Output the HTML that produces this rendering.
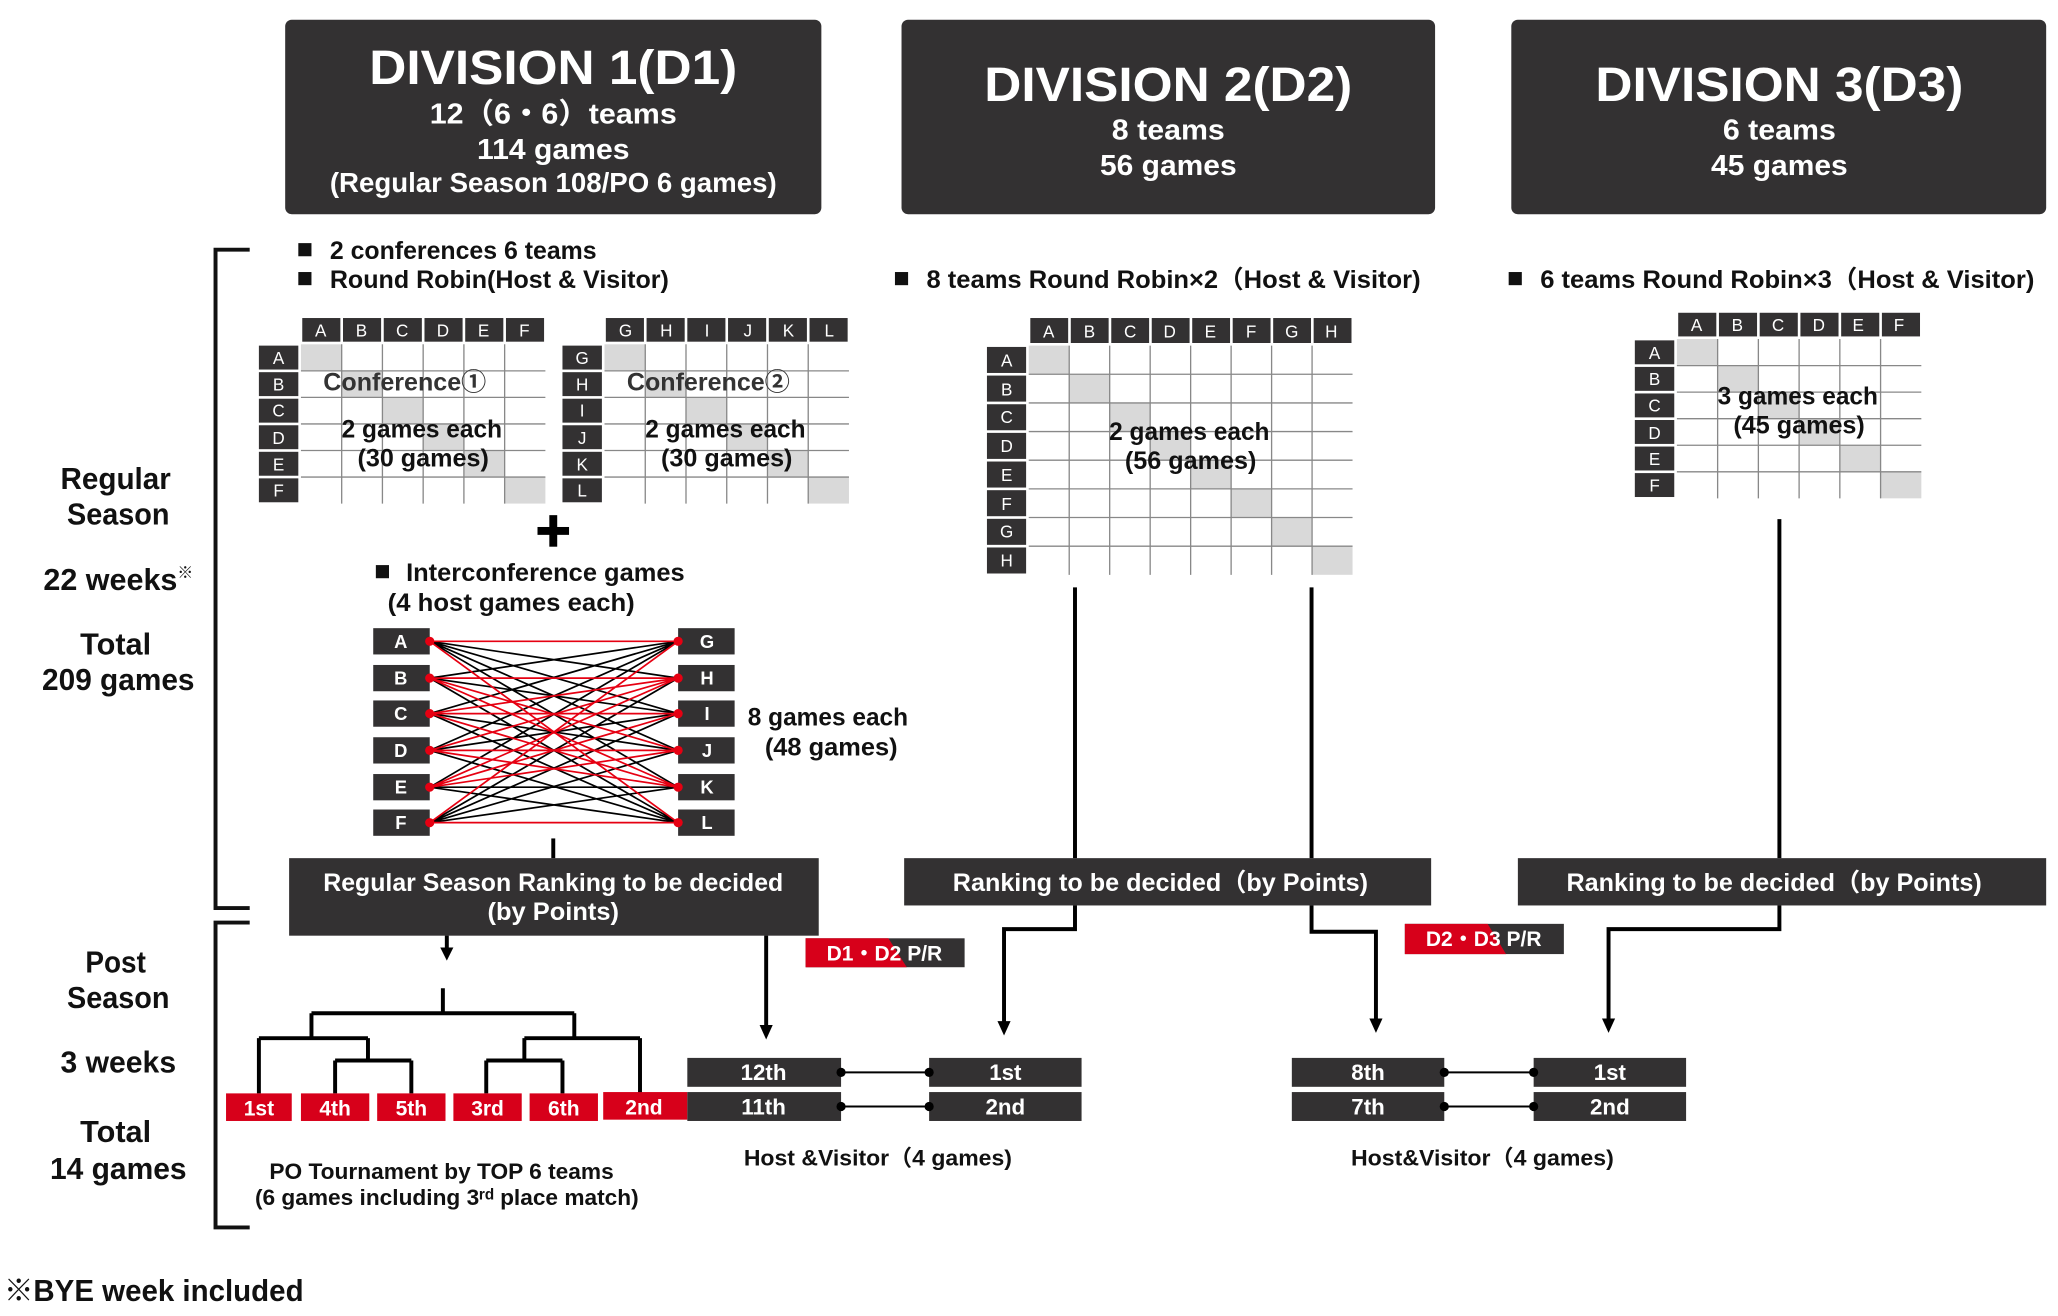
<!DOCTYPE html>
<html><head><meta charset="utf-8"><style>
html,body{margin:0;padding:0;background:#fff;}
svg{display:block;}
text{font-family:"Liberation Sans","Noto Sans CJK JP",sans-serif;font-weight:bold;}
.gl text{font-weight:normal;}
</style></head><body>
<svg width="2058" height="1316" viewBox="0 0 1566 1001.4" preserveAspectRatio="none" xmlns="http://www.w3.org/2000/svg">
<defs>
<g id="g6">
<g fill="#333132">
<rect x="230" y="242" width="29" height="18"/><rect x="261" y="242" width="29" height="18"/><rect x="292" y="242" width="29" height="18"/><rect x="323" y="242" width="29" height="18"/><rect x="354" y="242" width="29" height="18"/><rect x="385" y="242" width="29" height="18"/>
<rect x="197" y="263" width="30" height="18.2"/><rect x="197" y="283.2" width="30" height="18.2"/><rect x="197" y="303.4" width="30" height="18.2"/><rect x="197" y="323.6" width="30" height="18.2"/><rect x="197" y="343.8" width="30" height="18.2"/><rect x="197" y="364" width="30" height="18.2"/>
</g>
<g fill="#d9d9d9">
<rect x="229" y="262" width="31" height="20.2"/><rect x="260" y="282.2" width="31" height="20.2"/><rect x="291" y="302.4" width="31" height="20.2"/><rect x="322" y="322.6" width="31" height="20.2"/><rect x="353" y="342.8" width="31" height="20.2"/><rect x="384" y="363" width="31" height="20.2"/>
</g>
<path d="M260,262V383.2M291,262V383.2M322,262V383.2M353,262V383.2M384,262V383.2M229,282.2H415M229,302.4H415M229,322.6H415M229,342.8H415M229,363H415" stroke="#888" stroke-width="1" fill="none"/>
</g>
</defs>
<use href="#g6"/>
<use href="#g6" transform="translate(231,0)"/>
<use href="#g6" transform="translate(1047,-4)"/>
<!-- D2 grid -->
<g fill="#333132">
<rect x="784" y="242" width="28.8" height="19"/><rect x="814.8" y="242" width="28.8" height="19"/><rect x="845.6" y="242" width="28.8" height="19"/><rect x="876.4" y="242" width="28.8" height="19"/><rect x="907.2" y="242" width="28.8" height="19"/><rect x="938" y="242" width="28.8" height="19"/><rect x="968.8" y="242" width="28.8" height="19"/><rect x="999.6" y="242" width="28.8" height="19"/>
<rect x="751" y="264" width="29.8" height="19.8"/><rect x="751" y="285.8" width="29.8" height="19.8"/><rect x="751" y="307.6" width="29.8" height="19.8"/><rect x="751" y="329.4" width="29.8" height="19.8"/><rect x="751" y="351.2" width="29.8" height="19.8"/><rect x="751" y="373" width="29.8" height="19.8"/><rect x="751" y="394.8" width="29.8" height="19.8"/><rect x="751" y="416.6" width="29.8" height="19.8"/>
</g>
<g fill="#d9d9d9">
<rect x="782.8" y="263" width="30.8" height="21.8"/><rect x="813.6" y="284.8" width="30.8" height="21.8"/><rect x="844.4" y="306.6" width="30.8" height="21.8"/><rect x="875.2" y="328.4" width="30.8" height="21.8"/><rect x="906" y="350.2" width="30.8" height="21.8"/><rect x="936.8" y="372" width="30.8" height="21.8"/><rect x="967.6" y="393.8" width="30.8" height="21.8"/><rect x="998.4" y="415.6" width="30.8" height="21.8"/>
</g>
<path d="M813.6,263V437.4M844.4,263V437.4M875.2,263V437.4M906,263V437.4M936.8,263V437.4M967.6,263V437.4M998.4,263V437.4M782.8,284.8H1029.2M782.8,306.6H1029.2M782.8,328.4H1029.2M782.8,350.2H1029.2M782.8,372H1029.2M782.8,393.8H1029.2M782.8,415.6H1029.2" stroke="#888" stroke-width="1" fill="none"/>
<!-- headers -->
<rect x="217" y="15" width="408" height="148" rx="5" fill="#333132"/>
<rect x="686" y="15" width="406" height="148" rx="5" fill="#333132"/>
<rect x="1150" y="15" width="407" height="148" rx="5" fill="#333132"/>
<g fill="#fff" text-anchor="middle">
<text x="421" y="64" font-size="37" textLength="280" lengthAdjust="spacingAndGlyphs">DIVISION 1(D1)</text>
<text x="421" y="94" font-size="22" textLength="188" lengthAdjust="spacingAndGlyphs">12（6・6）teams</text>
<text x="421" y="121" font-size="22" textLength="116" lengthAdjust="spacingAndGlyphs">114 games</text>
<text x="421" y="146" font-size="21" textLength="340" lengthAdjust="spacingAndGlyphs">(Regular Season 108/PO 6 games)</text>
<text x="889" y="77" font-size="37" textLength="280" lengthAdjust="spacingAndGlyphs">DIVISION 2(D2)</text>
<text x="889" y="106" font-size="22" textLength="86" lengthAdjust="spacingAndGlyphs">8 teams</text>
<text x="889" y="133" font-size="22" textLength="104" lengthAdjust="spacingAndGlyphs">56 games</text>
<text x="1354" y="77" font-size="37" textLength="280" lengthAdjust="spacingAndGlyphs">DIVISION 3(D3)</text>
<text x="1354" y="106" font-size="22" textLength="86" lengthAdjust="spacingAndGlyphs">6 teams</text>
<text x="1354" y="133" font-size="22" textLength="104" lengthAdjust="spacingAndGlyphs">45 games</text>
</g>
<g fill="#111" font-size="19">
<rect x="227" y="185" width="10" height="10"/><text x="251" y="197" textLength="203" lengthAdjust="spacingAndGlyphs">2 conferences 6 teams</text>
<rect x="227" y="207" width="10" height="10"/><text x="251" y="219" textLength="258" lengthAdjust="spacingAndGlyphs">Round Robin(Host &amp; Visitor)</text>
<rect x="681" y="207" width="10" height="10"/><text x="705" y="219" textLength="376" lengthAdjust="spacingAndGlyphs">8 teams Round Robin×2（Host &amp; Visitor)</text>
<rect x="1148" y="207" width="10" height="10"/><text x="1172" y="219" textLength="376" lengthAdjust="spacingAndGlyphs">6 teams Round Robin×3（Host &amp; Visitor)</text>
<rect x="286" y="430" width="10" height="10"/><text x="309" y="442" textLength="212" lengthAdjust="spacingAndGlyphs">Interconference games</text>
<text x="295" y="465" textLength="188" lengthAdjust="spacingAndGlyphs">(4  host games each)</text>
<text x="569" y="552" textLength="122" lengthAdjust="spacingAndGlyphs">8 games each</text>
<text x="582" y="575" textLength="101" lengthAdjust="spacingAndGlyphs">(48 games)</text>
<text x="246" y="297" fill="#333" textLength="124" lengthAdjust="spacingAndGlyphs">Conference①</text>
<text x="477" y="297" fill="#333" textLength="124" lengthAdjust="spacingAndGlyphs">Conference②</text>
<text x="260" y="333" textLength="122" lengthAdjust="spacingAndGlyphs">2 games each</text>
<text x="272" y="355" textLength="100" lengthAdjust="spacingAndGlyphs">(30 games)</text>
<text x="491" y="333" textLength="122" lengthAdjust="spacingAndGlyphs">2 games each</text>
<text x="503" y="355" textLength="100" lengthAdjust="spacingAndGlyphs">(30 games)</text>
<text x="844" y="335" textLength="122" lengthAdjust="spacingAndGlyphs">2 games each</text>
<text x="856" y="357" textLength="100" lengthAdjust="spacingAndGlyphs">(56 games)</text>
<text x="1307" y="308" textLength="122" lengthAdjust="spacingAndGlyphs">3 games each</text>
<text x="1319" y="330" textLength="100" lengthAdjust="spacingAndGlyphs">(45 games)</text>
</g>
<rect x="409" y="401" width="24" height="6" fill="#000"/><rect x="418" y="392" width="6" height="24" fill="#000"/>
<g fill="#111" font-size="23" text-anchor="middle">
<text x="88" y="372" textLength="84" lengthAdjust="spacingAndGlyphs">Regular</text>
<text x="90" y="399" textLength="78" lengthAdjust="spacingAndGlyphs">Season</text>
<text x="84" y="449" textLength="102" lengthAdjust="spacingAndGlyphs">22 weeks</text>
<text x="88" y="498" textLength="54" lengthAdjust="spacingAndGlyphs">Total</text>
<text x="90" y="525" textLength="116" lengthAdjust="spacingAndGlyphs">209 games</text>
<text x="88" y="740" textLength="46" lengthAdjust="spacingAndGlyphs">Post</text>
<text x="90" y="767" textLength="78" lengthAdjust="spacingAndGlyphs">Season</text>
<text x="90" y="816" textLength="88" lengthAdjust="spacingAndGlyphs">3 weeks</text>
<text x="88" y="869" textLength="54" lengthAdjust="spacingAndGlyphs">Total</text>
<text x="90" y="897" textLength="104" lengthAdjust="spacingAndGlyphs">14 games</text>
</g>
<text x="135" y="440" font-size="12" fill="#111">※</text>
<text x="3" y="990" font-size="23" fill="#111" textLength="228" lengthAdjust="spacingAndGlyphs">※BYE week included</text>
<path d="M190,190 H164 V691 H190" fill="none" stroke="#111" stroke-width="3"/>
<path d="M190,702 H164 V934 H190" fill="none" stroke="#111" stroke-width="3"/>
<rect x="220" y="653" width="403" height="59" fill="#333132"/>
<rect x="688" y="653" width="401" height="36" fill="#333132"/>
<rect x="1155" y="653" width="402" height="36" fill="#333132"/>
<g fill="#fff" font-size="19" text-anchor="middle">
<text x="421" y="678" textLength="350" lengthAdjust="spacingAndGlyphs">Regular Season Ranking to be decided</text>
<text x="421" y="700" textLength="100" lengthAdjust="spacingAndGlyphs">(by Points)</text>
<text x="883" y="678" textLength="316" lengthAdjust="spacingAndGlyphs">Ranking to be decided（by Points)</text>
<text x="1350" y="678" textLength="316" lengthAdjust="spacingAndGlyphs">Ranking to be decided（by Points)</text>
</g>
<g stroke="#000" stroke-width="3" fill="none">
<line x1="421" y1="638" x2="421" y2="653"/>
<path d="M818,447 V653 M818,689 V707 H764 V780 M998,447 V653 M998,689 V709 H1047 V778 M1354,395 V653 M1354,689 V707 H1224 V778"/>
<path d="M340,712 V724 M583,712 V783"/>
<path d="M337,752 V771 M237,771 H437 M237,771 V790 M197,790 H280 M197,790 V832 M280,790 V807 M255,807 H313 M255,807 V832 M313,807 V832 M437,771 V790 M399,790 H487 M487,790 V832 M399,790 V807 M370,807 H428 M370,807 V832 M428,807 V832"/>
</g>
<g fill="#000">
<path d="M335,721 h10 l-5,10z"/><path d="M578,780 h10 l-5,11z"/><path d="M759,777 h10 l-5,11z"/>
<path d="M1042,775 h10 l-5,11z"/><path d="M1219,775 h10 l-5,11z"/>
</g>
<g fill="#d7001a">
<rect x="172" y="832" width="50" height="21"/><rect x="229" y="832" width="52" height="21"/><rect x="287" y="832" width="52" height="21"/>
<rect x="345" y="832" width="52" height="21"/><rect x="403" y="832" width="52" height="21"/><rect x="459" y="831" width="64" height="21"/>
</g>
<g fill="#fff" font-size="16" text-anchor="middle">
<text x="197" y="849">1st</text><text x="255" y="849">4th</text><text x="313" y="849">5th</text>
<text x="371" y="849">3rd</text><text x="429" y="849">6th</text><text x="490" y="848">2nd</text>
</g>
<g fill="#111" font-size="17" text-anchor="middle">
<text x="336" y="897" textLength="262" lengthAdjust="spacingAndGlyphs">PO Tournament by TOP 6 teams</text>
<text x="340" y="917" textLength="292" lengthAdjust="spacingAndGlyphs">(6 games including 3ʳᵈ place match)</text>
<text x="668" y="887" textLength="204" lengthAdjust="spacingAndGlyphs">Host &amp;Visitor（4 games)</text>
<text x="1128" y="887" textLength="200" lengthAdjust="spacingAndGlyphs">Host&amp;Visitor（4 games)</text>
</g>
<rect x="613" y="714" width="121" height="22" fill="#333132"/><path d="M613,714 H676 L690,736 H613Z" fill="#d7001a"/>
<text x="673" y="731" fill="#fff" font-size="16" text-anchor="middle">D1・D2 P/R</text>
<rect x="1069" y="703" width="121" height="23" fill="#333132"/><path d="M1069,703 H1132 L1146,726 H1069Z" fill="#d7001a"/>
<text x="1129" y="720" fill="#fff" font-size="16" text-anchor="middle">D2・D3 P/R</text>
<g fill="#333132">
<rect x="523" y="805" width="117" height="22"/><rect x="523" y="831" width="117" height="22"/>
<rect x="707" y="805" width="116" height="22"/><rect x="707" y="831" width="116" height="22"/>
<rect x="983" y="805" width="116" height="22"/><rect x="983" y="831" width="116" height="22"/>
<rect x="1167" y="805" width="116" height="22"/><rect x="1167" y="831" width="116" height="22"/>
</g>
<g stroke="#000" stroke-width="1.5"><line x1="640" y1="816" x2="707" y2="816"/><line x1="640" y1="842" x2="707" y2="842"/><line x1="1099" y1="816" x2="1167" y2="816"/><line x1="1099" y1="842" x2="1167" y2="842"/></g>
<g fill="#000"><circle cx="640" cy="816" r="3.5"/><circle cx="707" cy="816" r="3.5"/><circle cx="640" cy="842" r="3.5"/><circle cx="707" cy="842" r="3.5"/><circle cx="1099" cy="816" r="3.5"/><circle cx="1167" cy="816" r="3.5"/><circle cx="1099" cy="842" r="3.5"/><circle cx="1167" cy="842" r="3.5"/></g>
<g fill="#fff" font-size="17" text-anchor="middle">
<text x="581" y="822">12th</text><text x="581" y="848">11th</text><text x="765" y="822">1st</text><text x="765" y="848">2nd</text>
<text x="1041" y="822">8th</text><text x="1041" y="848">7th</text><text x="1225" y="822">1st</text><text x="1225" y="848">2nd</text>
</g>
<g fill="#333132">
<rect x="284" y="478" width="43" height="20"/><rect x="284" y="506" width="43" height="20"/><rect x="284" y="533" width="43" height="20"/><rect x="284" y="561" width="43" height="20"/><rect x="284" y="589" width="43" height="20"/><rect x="284" y="616" width="43" height="20"/>
<rect x="516" y="478" width="43" height="20"/><rect x="516" y="506" width="43" height="20"/><rect x="516" y="533" width="43" height="20"/><rect x="516" y="561" width="43" height="20"/><rect x="516" y="589" width="43" height="20"/><rect x="516" y="616" width="43" height="20"/>
</g>
<g fill="#fff" font-size="14" text-anchor="middle">
<text x="305" y="493">A</text><text x="305" y="521">B</text><text x="305" y="548">C</text><text x="305" y="576">D</text><text x="305" y="604">E</text><text x="305" y="631">F</text>
<text x="538" y="493">G</text><text x="538" y="521">H</text><text x="538" y="548">I</text><text x="538" y="576">J</text><text x="538" y="604">K</text><text x="538" y="631">L</text>
</g>
<!-- interconference lines -->
<path fill="none" stroke="#000" stroke-width="1.3" d="M327,488L516,516M327,488L516,543M327,488L516,571M327,488L516,599
M327,516L516,488M327,516L516,543M327,516L516,626
M327,543L516,488M327,543L516,571M327,543L516,626
M327,571L516,488M327,571L516,543M327,571L516,626
M327,599L516,488M327,599L516,599M327,599L516,626
M327,626L516,516M327,626L516,543M327,626L516,571M327,626L516,599"/>
<path fill="none" stroke="#e60012" stroke-width="1.3" d="M327,488L516,488M327,488L516,626M327,626L516,626M327,626L516,488
M327,516L516,516M327,516L516,571M327,516L516,599
M327,543L516,516M327,543L516,543M327,543L516,599
M327,571L516,516M327,571L516,571M327,571L516,599
M327,599L516,516M327,599L516,571M327,599L516,543"/>
<g fill="#e60012">
<circle cx="327" cy="488" r="3.5"/><circle cx="327" cy="516" r="3.5"/><circle cx="327" cy="543" r="3.5"/><circle cx="327" cy="571" r="3.5"/><circle cx="327" cy="599" r="3.5"/><circle cx="327" cy="626" r="3.5"/>
<circle cx="516" cy="488" r="3.5"/><circle cx="516" cy="516" r="3.5"/><circle cx="516" cy="543" r="3.5"/><circle cx="516" cy="571" r="3.5"/><circle cx="516" cy="599" r="3.5"/><circle cx="516" cy="626" r="3.5"/>
</g>
<g class="gl" fill="#fff" font-size="13" text-anchor="middle">
<text x="244" y="256">A</text><text x="275" y="256">B</text><text x="306" y="256">C</text><text x="337" y="256">D</text><text x="368" y="256">E</text><text x="399" y="256">F</text>
<text x="212" y="277">A</text><text x="212" y="297">B</text><text x="212" y="317">C</text><text x="212" y="338">D</text><text x="212" y="358">E</text><text x="212" y="378">F</text>
<text x="476" y="256">G</text><text x="507" y="256">H</text><text x="538" y="256">I</text><text x="569" y="256">J</text><text x="600" y="256">K</text><text x="631" y="256">L</text>
<text x="443" y="277">G</text><text x="443" y="297">H</text><text x="443" y="317">I</text><text x="443" y="338">J</text><text x="443" y="358">K</text><text x="443" y="378">L</text>
<text x="798" y="257">A</text><text x="829" y="257">B</text><text x="860" y="257">C</text><text x="890" y="257">D</text><text x="921" y="257">E</text><text x="952" y="257">F</text><text x="983" y="257">G</text><text x="1013" y="257">H</text>
<text x="766" y="279">A</text><text x="766" y="301">B</text><text x="766" y="322">C</text><text x="766" y="344">D</text><text x="766" y="366">E</text><text x="766" y="388">F</text><text x="766" y="409">G</text><text x="766" y="431">H</text>
<text x="1291" y="252">A</text><text x="1322" y="252">B</text><text x="1353" y="252">C</text><text x="1384" y="252">D</text><text x="1414" y="252">E</text><text x="1445" y="252">F</text>
<text x="1259" y="273">A</text><text x="1259" y="293">B</text><text x="1259" y="313">C</text><text x="1259" y="334">D</text><text x="1259" y="354">E</text><text x="1259" y="374">F</text>
</g>
</svg>
</body></html>
